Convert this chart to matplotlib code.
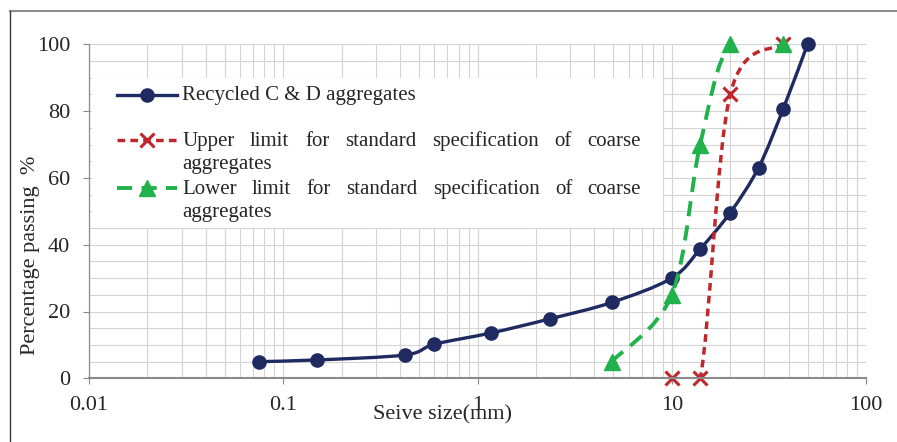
import numpy as np
import matplotlib
matplotlib.use('Agg')
import matplotlib.pyplot as plt
from matplotlib.path import Path
from matplotlib.patches import PathPatch, Rectangle
from matplotlib.lines import Line2D
from matplotlib.ticker import FixedLocator, FixedFormatter, LogLocator, NullFormatter, MultipleLocator

# ---------------- data ----------------
recycled_size = [0.075, 0.15, 0.425, 0.6, 1.18, 2.36, 4.9, 10, 14, 20, 28, 37.5, 50]
recycled_pass = [5, 5.5, 7, 10.2, 13.6, 17.8, 22.7, 30, 38.7, 49.6, 63.1, 80.7, 100]
upper_size = [10, 14, 20, 37.5]
upper_pass = [0, 0, 85, 100]
lower_size = [4.9, 10, 14, 20, 37.5]
lower_pass = [5, 25, 70, 100, 100]
x_ticks = [0.01, 0.1, 1, 10, 100]
x_tick_labels = ['0.01', '0.1', '1', '10', '100']
y_ticks = [0, 20, 40, 60, 80, 100]
series_labels = [
    'Recycled C & D aggregates',
    'Upper limit for standard specification of coarse aggregates',
    'Lower limit for standard specification of coarse aggregates',
]
x_label = 'Seive size(mm)'
y_label = 'Percentage passing  %'

# ---------------- style ----------------
W, H = 897, 442
FONT = 'Liberation Serif'
NAVY = '#1f2a60'
RED = '#c0272d'
GREEN = '#21b24b'
GRID = '#d4d4d4'
SPINE = '#8a8a8a'
TXT = '#262626'

plt.rcParams['font.family'] = [FONT, 'DejaVu Serif']

fig = plt.figure(figsize=(W / 100, H / 100), dpi=100)
fig.patch.set_facecolor('white')


def fx(px):
    return px / W


def fy(py):
    return 1 - py / H


ax = fig.add_axes([fx(89), fy(378.3), fx(866) - fx(89), fy(44.3) - fy(378.3)])
ax.set_xscale('log')
ax.set_xlim(0.01, 100)
ax.set_ylim(0, 100)
ax.set_axisbelow(True)

ax.xaxis.set_major_locator(FixedLocator(x_ticks))
ax.xaxis.set_major_formatter(FixedFormatter(x_tick_labels))
ax.xaxis.set_minor_locator(LogLocator(base=10, subs=np.arange(2, 10)))
ax.xaxis.set_minor_formatter(NullFormatter())
ax.yaxis.set_major_locator(FixedLocator(y_ticks))
ax.yaxis.set_minor_locator(MultipleLocator(5))

ax.grid(True, which='both', color=GRID, lw=0.8, zorder=0)
ax.tick_params(which='minor', length=0)
ax.tick_params(axis='y', which='major', direction='out', length=4.5, width=0.8,
               color=SPINE, pad=9, labelsize=16, labelcolor=TXT)
ax.tick_params(axis='x', which='major', direction='out', length=4, width=0.8,
               color=SPINE, pad=9, labelsize=16, labelcolor=TXT)
for lab in ax.get_xticklabels() + ax.get_yticklabels():
    lab.set_fontfamily(FONT)

for s in ['top', 'right']:
    ax.spines[s].set_visible(False)
ax.spines['left'].set_color(SPINE)
ax.spines['left'].set_linewidth(0.9)
ax.spines['bottom'].set_color(SPINE)
ax.spines['bottom'].set_linewidth(1.5)
ax.spines['left'].set_zorder(4)
ax.spines['bottom'].set_zorder(4)


def smooth_path(xs, ys):
    lx = np.log10(np.asarray(xs, float))
    y = np.asarray(ys, float)
    n = len(lx)
    verts = [(lx[0], y[0])]
    codes = [Path.MOVETO]
    for i in range(n - 1):
        i0, i3 = max(i - 1, 0), min(i + 2, n - 1)
        c1 = (lx[i] + (lx[i + 1] - lx[i0]) / 6, y[i] + (y[i + 1] - y[i0]) / 6)
        c2 = (lx[i + 1] - (lx[i3] - lx[i]) / 6, y[i + 1] - (y[i3] - y[i]) / 6)
        verts += [c1, c2, (lx[i + 1], y[i + 1])]
        codes += [Path.CURVE4] * 3
    verts = [(10 ** a, b) for a, b in verts]
    return Path(verts, codes)


navy_style = dict(color=NAVY, lw=2.4)
red_style = dict(color=RED, lw=2.5, ls=(0, (2.2, 1.5)))
green_style = dict(color=GREEN, lw=2.8, ls=(0, (3.9, 2.4)))

ax.add_patch(PathPatch(smooth_path(recycled_size, recycled_pass), fill=False,
                       edgecolor=NAVY, lw=navy_style['lw'], capstyle='round',
                       joinstyle='round', zorder=3))
ax.plot(recycled_size, recycled_pass, ls='none', marker='o', ms=9.5,
        color=NAVY, clip_on=False, zorder=3.1)

ax.add_patch(PathPatch(smooth_path(upper_size, upper_pass), fill=False,
                       edgecolor=RED, lw=red_style['lw'], linestyle=red_style['ls'],
                       capstyle='butt', zorder=3.2))
ax.plot(upper_size, upper_pass, ls='none', marker='x', ms=10, mew=2.2,
        color=RED, clip_on=False, zorder=3.3)

ax.add_patch(PathPatch(smooth_path(lower_size, lower_pass), fill=False,
                       edgecolor=GREEN, lw=green_style['lw'], linestyle=green_style['ls'],
                       capstyle='butt', zorder=3.4))
ax.plot(lower_size, lower_pass, ls='none', marker='^', ms=11,
        color=GREEN, clip_on=False, zorder=3.5)

# ---------------- custom legend ----------------
fig.add_artist(Rectangle((fx(91.5), fy(228)), fx(663) - fx(91.5), fy(78) - fy(228),
                         transform=fig.transFigure, facecolor='white',
                         edgecolor='none', zorder=1))

hx0, hx1, hm = 117, 177, 147
rows_y = [94.5, 140, 188]
fig.add_artist(Line2D([fx(hx0), fx(hx1)], [fy(rows_y[0])] * 2, transform=fig.transFigure,
                      color=NAVY, lw=2.4, zorder=2))
fig.add_artist(Line2D([fx(hm)], [fy(rows_y[0])], transform=fig.transFigure,
                      color=NAVY, marker='o', ms=9.5, ls='none', zorder=2.1))
fig.add_artist(Line2D([fx(hx0), fx(hx1)], [fy(rows_y[1])] * 2, transform=fig.transFigure,
                      color=RED, lw=2.5, ls=red_style['ls'], dash_capstyle='butt', zorder=2))
fig.add_artist(Line2D([fx(hm)], [fy(rows_y[1])], transform=fig.transFigure,
                      color=RED, marker='x', ms=10, mew=2.2, ls='none', zorder=2.1))
fig.add_artist(Line2D([fx(hx0), fx(hx1)], [fy(rows_y[2])] * 2, transform=fig.transFigure,
                      color=GREEN, lw=2.8, ls=green_style['ls'], dash_capstyle='butt', zorder=2))
fig.add_artist(Line2D([fx(hm)], [fy(rows_y[2])], transform=fig.transFigure,
                      color=GREEN, marker='^', ms=11, ls='none', zorder=2.1))

renderer = fig.canvas.get_renderer()
LEG_FS = 15
TX0, TX1 = 182, 641


def put_text(s, x, ybase):
    return fig.text(fx(x), fy(ybase), s, fontsize=LEG_FS, color=TXT,
                    ha='left', va='baseline', zorder=3)


def justified(words, ybase):
    ts = [put_text(w, 0, ybase) for w in words]
    widths = [t.get_window_extent(renderer).width for t in ts]
    gap = (TX1 - TX0 - sum(widths)) / (len(words) - 1)
    x = TX0
    for t, w in zip(ts, widths):
        t.set_position((fx(x), fy(ybase)))
        x += w + gap


put_text(series_labels[0], TX0, 100)
for lab, yb in [(series_labels[1], 146), (series_labels[2], 194)]:
    words = lab.split(' ')
    justified(words[:-1], yb)
    put_text(words[-1], TX0, yb + 23)

# ---------------- axis titles ----------------
fig.text(fx(442), fy(415), x_label, fontsize=16, color=TXT, ha='center', va='center')
fig.text(fx(31), fy(255), y_label, fontsize=16, color=TXT, ha='center', va='center',
         rotation=90)

# ---------------- outer frame (top & left visible) ----------------
fig.add_artist(Line2D([fx(9.5), 1], [fy(11)] * 2, transform=fig.transFigure,
                      color='#8c8c8c', lw=1.5, zorder=5))
fig.add_artist(Line2D([fx(9.5)] * 2, [fy(11), 0], transform=fig.transFigure,
                      color='#3a3a3a', lw=1.0, zorder=5))

fig.savefig('out.png', dpi=100, facecolor='white')
